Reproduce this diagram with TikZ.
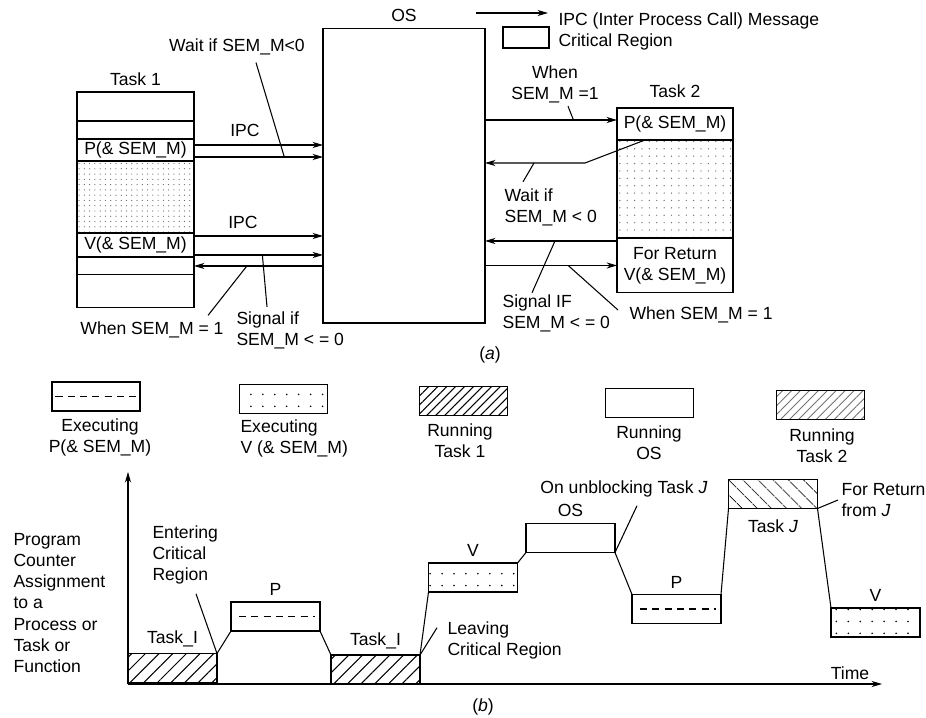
\documentclass[tikz,border=0pt]{standalone}
\usepackage{fontspec}
\setmainfont{Liberation Sans}
\usetikzlibrary{positioning,calc,arrows.meta,patterns.meta}
\begin{document}
\begin{tikzpicture}[x=0.02cm,y=-0.02cm,line width=0.6pt,
  font=\fontsize{10}{12}\selectfont,
  msg/.style={-{Stealth[length=6pt,width=3.5pt]}},
  rmsg/.style={{Stealth[length=6pt,width=3.5pt]}-},
  row/.style={draw,minimum width=2.34cm,inner sep=0pt,outer sep=0pt},
  blk/.style={draw,minimum width=1.78cm,minimum height=0.58cm,inner sep=0pt,outer sep=0pt},
  key/.style={draw,minimum width=1.76cm,minimum height=0.58cm,inner sep=0pt},
  txt/.style={align=left,inner sep=0pt,anchor=west},
  ctxt/.style={align=center,inner sep=0pt},
  fdots/.style={pattern={Dots[distance=3pt,radius=0.35pt]},pattern color=black!60},
  sdots/.style={pattern={Dots[distance=6.8pt,radius=0.5pt]}},
  hatch/.style={pattern={Lines[angle=45,distance=5.5pt,line width=0.6pt]}},
  rhatch/.style={pattern={Lines[angle=-45,distance=6.5pt,line width=0.6pt]}},
  shortdash/.style={dash pattern=on 4pt off 3pt}]
\useasboundingbox (0,0) rectangle (926,717);
% (a) tasks and OS
\node[row,minimum height=0.58cm,label=above:Task 1] (t1a) at (135.5,106.5) {};
\node[row,minimum height=0.36cm,below=0pt of t1a] (t1b) {};
\node[row,minimum height=0.44cm,below=0pt of t1b] (t1p) {P(\&~SEM\_M)};
\node[row,minimum height=1.44cm,below=0pt of t1p,fdots] (t1c) {};
\node[row,minimum height=0.48cm,below=0pt of t1c] (t1v) {V(\&~SEM\_M)};
\node[row,minimum height=0.36cm,below=0pt of t1v] (t1d) {};
\node[row,minimum height=0.66cm,below=0pt of t1d] (t1e) {};
\node[draw,minimum width=3.24cm,minimum height=5.9cm,inner sep=0pt,outer sep=0pt,label=above:OS] (os) at (404,175.5) {};
\node[row,minimum width=2.32cm,minimum height=0.64cm,label={[yshift=2pt]above:Task 2}] (t2p) at (675,124) {P(\&~SEM\_M)};
\node[row,minimum width=2.32cm,minimum height=1.96cm,below=0pt of t2p,pattern={Dots[distance=4.2pt,radius=0.4pt]},pattern color=black!55] (t2c) {};
\node[row,minimum width=2.32cm,minimum height=1.1cm,below=0pt of t2c,align=center] (t2r) {For Return\\V(\&~SEM\_M)};

\draw[msg] ([yshift=0.1cm]t1p.east) coordinate (a1) -- (a1 -| os.west);
\draw[msg] ([yshift=-0.14cm]t1p.east) coordinate (a2) -- (a2 -| os.west);
\node (ipc1) at (245,130) {IPC};
\node[ctxt] (w1) at (237,47) {Wait if SEM\_M<0};
\draw ($(w1.south)+(19,7)$) -- ($(a2)!0.7!(a2 -| os.west)$);
\draw[msg] ([yshift=0.18cm]t1v.east) coordinate (a3) -- (a3 -| os.west);
\draw[msg] ([yshift=-0.2cm]t1v.east) coordinate (a4) -- (a4 -| os.west);
\draw[msg] (t1d.east -| os.west) -- (t1d.east);
\node (ipc2) at (243,222) {IPC};
\node[ctxt] (wh1) at (152,330) {When SEM\_M = 1};
\draw ($(wh1.north east)+(-16,-6)$) -- ($(t1d.east)!0.41!(t1d.east -| os.west)$);
\node[txt] (sg1) at (236,330) {Signal if\\SEM\_M < = 0};
\draw ($(sg1.north west)+(31,-4)$) -- ($(a4)!0.53!(a4 -| os.west)$);

\draw[rmsg] ([yshift=0.08cm]t2p.west) coordinate (b1) -- (b1 -| os.east);
\node[ctxt] (wh2) at (555,84) {When\\SEM\_M =1};
\draw ($(wh2.south)+(13,3)$) -- ($(b1 -| os.east)!0.67!(b1)$);
\draw[msg] ([xshift=-0.6cm]t2p.south) -- ++(-60,23) coordinate (b2) -- (b2 -| os.east);
\node[txt] (w2) at (504,207) {Wait if\\SEM\_M < 0};
\draw ($(b2)!0.51!(b2 -| os.east)$) -- ($(w2.north west)+(19,-6)$);
\draw[msg] ([yshift=0.49cm]t2r.west) coordinate (b3) -- (b3 -| os.east);
\draw[rmsg] (t2r.west) coordinate (b4) -- (b4 -| os.east);
\node[txt] (sg2) at (502,313) {Signal IF\\SEM\_M < = 0};
\draw ($(b3)!0.47!(b3 -| os.east)$) -- ($(sg2.north west)+(30,-1)$);
\node[txt] (wh3) at (629,315) {When SEM\_M = 1};
\draw ($(b4 -| os.east)!0.63!(b4)$) -- ($(wh3.west)+(-11,-5)$);
\node (capa) at (490,355) {(\textit{a})};

% legend of (a)
\coordinate (kmsg) at (476,13);
\draw[msg] (kmsg) -- ++(72,0);
\node[txt] (kmsgt) at (558,21) {IPC (Inter Process Call) Message};
\node[draw,minimum width=0.92cm,minimum height=0.42cm,inner sep=0pt] (kcr) at (526,37.5) {};
\node[txt] (kcrt) at (558,42) {Critical Region};

% legend of (b)
\node[key] (kp) at (96,396.5) {};
\draw[shortdash] ([xshift=0.08cm]kp.west) -- ([xshift=-0.08cm]kp.east);
\node[ctxt] (kpt) at (100,437) {Executing\\P(\&~SEM\_M)};
\node[key,sdots] (kv) at (283.5,399) {};
\node[txt] (kvt) at (240,438) {Executing\\V (\&~SEM\_M)};
\node[key,pattern={Lines[angle=45,distance=3.6pt,line width=0.6pt]}] (kt1) at (463.5,401) {};
\node[ctxt] (kt1t) at (460,441) {Running\\Task 1};
\node[key] (kos) at (649.5,403) {};
\node[ctxt] (kost) at (649,443) {Running\\OS};
\node[key,pattern={Lines[angle=45,distance=3.6pt,line width=0.5pt]},pattern color=black!55] (kt2) at (820.5,405) {};
\node[ctxt] (kt2t) at (822,446) {Running\\Task 2};

% (b) program counter against time
\coordinate (o) at (128,684);
\coordinate (ytop) at (128,472);
\coordinate (xend) at (882,684);
\draw[msg] (o) -- (ytop);
\draw[msg] (o) -- (xend);
\node (tm) at (850,673) {Time};
\node[txt] (pc) at (13,603) {Program\\Counter\\Assignment\\to a\\Process or\\Task or\\Function};

\node[blk,hatch,label=above:Task\_I] (ti1) at (172.5,668) {};
\node[blk,label=above:P] (p1) at (275.5,616.5) {};
\draw[shortdash] ([xshift=0.16cm]p1.west) -- ([xshift=-0.1cm]p1.east);
\node[blk,hatch,label=above:Task\_I] (ti2) at (375.5,669.5) {};
\node[blk,sdots,label=above:V] (v1) at (473,577.5) {};
\node[blk,label=above:OS] (os1) at (570.5,538) {};
\node[blk,label=above:P] (p2) at (676.5,609) {};
\draw[shortdash] ([xshift=0.16cm]p2.west) -- ([xshift=-0.1cm]p2.east);
\node[blk,rhatch,label={[label distance=3pt]below:Task \textit{J}}] (tj) at (773,494) {};
\node[blk,sdots,label=above:V] (v2) at (875.5,622.5) {};
\draw (ti1.north east) -- (p1.south west)
      (p1.south east) -- (ti2.north west)
      (ti2.north east) -- (v1.south west)
      (v1.north east) -- (os1.south west)
      (os1.south east) -- (p2.north west)
      (p2.north east) -- (tj.south west)
      (tj.south east) -- (v2.north west);

\node[txt] (ent) at (152,555) {Entering\\Critical\\Region};
\draw ($(ent.south west)+(44,9)$) -- (ti1.north east);
\node[txt] (lv) at (447,640) {Leaving\\Critical Region};
\draw ($(lv.north west)+(-10,7)$) -- (ti2.north east);
\node[ctxt] (unb) at (624,489) {On unblocking Task \textit{J}};
\draw ($(unb.south)+(13,8)$) -- (os1.south east);
\node[txt] (fr) at (841,500) {For Return\\from \textit{J}};
\draw ($(fr.west)+(-3,0)$) -- (tj.south east);
\node (capb) at (483,707) {(\textit{b})};
\end{tikzpicture}
\end{document}
